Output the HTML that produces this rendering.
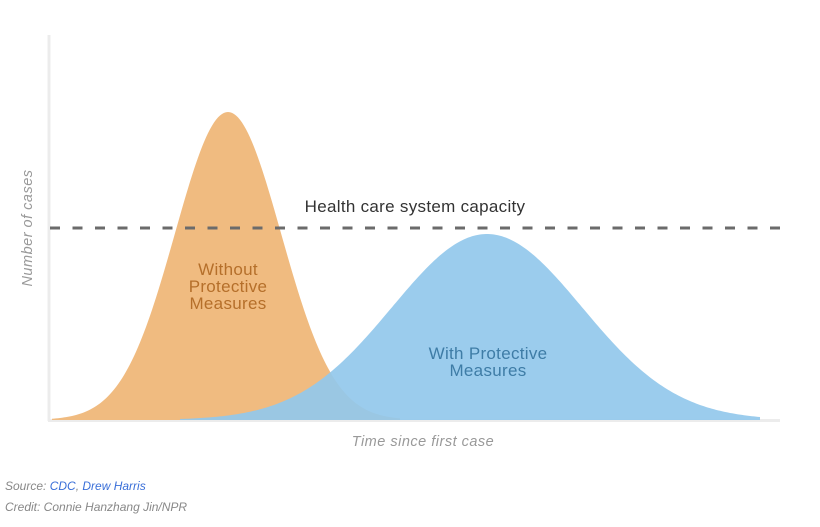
<!DOCTYPE html>
<html><head><meta charset="utf-8"><style>
body{margin:0;background:#fff;width:820px;height:522px;overflow:hidden;font-family:"Liberation Sans",sans-serif}
</style></head><body>
<svg id="s" width="820" height="522" xmlns="http://www.w3.org/2000/svg">
<line x1="49" y1="35" x2="49" y2="421" stroke="#ececec" stroke-width="3"/>
<line x1="48" y1="420.5" x2="780" y2="420.5" stroke="#ececec" stroke-width="3"/>
<path id="o" fill="#f0bb80"/>
<path id="b" fill="#92c8ec" fill-opacity="0.92"/>
<line x1="50" y1="228" x2="780" y2="228" stroke="#6b6b6b" stroke-width="3" stroke-dasharray="10 12.5"/>
<text x="415" y="212" font-size="17" fill="#333" text-anchor="middle" letter-spacing="0.3">Health care system capacity</text>
<g font-size="17" fill="#b56f2a" text-anchor="middle" letter-spacing="0.3">
<text x="228" y="275">Without</text><text x="228" y="292">Protective</text><text x="228" y="309">Measures</text></g>
<g font-size="17" fill="#3e7ca6" text-anchor="middle" letter-spacing="0.3">
<text x="488" y="359">With Protective</text><text x="488" y="376">Measures</text></g>
<text x="32" y="228" font-size="14.5" fill="#999" font-style="italic" text-anchor="middle" letter-spacing="0.5" transform="rotate(-90 32 228)">Number of cases</text>
<text x="423" y="446" font-size="14.5" fill="#999" font-style="italic" text-anchor="middle" letter-spacing="0.5">Time since first case</text>
<text x="5" y="490" font-size="12" fill="#888" font-style="italic">Source: <tspan fill="#3a6fd8">CDC</tspan>, <tspan fill="#3a6fd8">Drew Harris</tspan></text>
<text x="5" y="511" font-size="12" fill="#888" font-style="italic">Credit: Connie Hanzhang Jin/NPR</text>
</svg>
<script>
function g(mu,s,h,x0,x1){var d="M"+x0+" 420";for(var x=x0;x<=x1;x+=2){var y=420-h*Math.exp(-(x-mu)*(x-mu)/(2*s*s));d+=" L"+x+" "+y.toFixed(2);}return d+" L"+x1+" 420 Z";}
document.getElementById("o").setAttribute("d",g(228,53,308,52,400));
document.getElementById("b").setAttribute("d",g(487,95,186,180,760));
</script>
</body></html>
